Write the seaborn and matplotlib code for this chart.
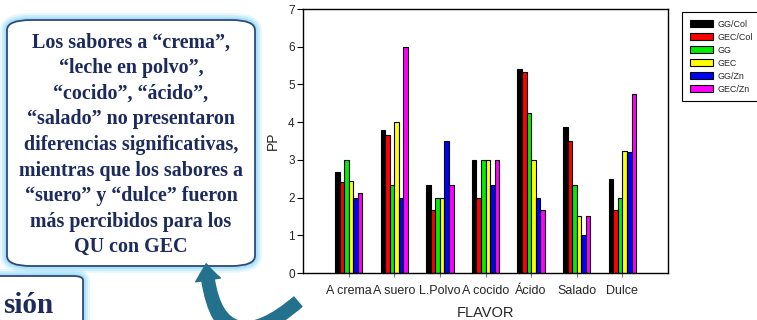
"""Sabores de QU — barras agrupadas por FLAVOR con nota explicativa a la izquierda"""

import numpy as np
import pandas as pd
import matplotlib
matplotlib.use('Agg')
import matplotlib.pyplot as plt
import seaborn as sns
from matplotlib.patches import FancyBboxPatch, FancyArrowPatch

# datos
sabores = ['A crema', 'A suero', 'L.Polvo', 'A cocido', 'Ácido', 'Salado', 'Dulce']
tratamientos = ['GG/Col', 'GEC/Col', 'GG', 'GEC', 'GG/Zn', 'GEC/Zn']
gg_col = [2.67, 3.80, 2.33, 3.00, 5.40, 3.87, 2.50]
gec_col = [2.40, 3.67, 1.67, 2.00, 5.33, 3.50, 1.67]
gg = [3.00, 2.33, 2.00, 3.00, 4.23, 2.33, 2.00]
gec = [2.43, 4.00, 2.00, 3.00, 3.00, 1.50, 3.23]
gg_zn = [2.00, 2.00, 3.50, 2.33, 2.00, 1.00, 3.20]
gec_zn = [2.13, 6.00, 2.33, 3.00, 1.67, 1.50, 4.75]
colores = ['#000000', '#ff0000', '#00ee00', '#ffff00', '#0000ff', '#ff00ff']

nota = ('Los sabores a “crema”,\n“leche en polvo”,\n“cocido”, “ácido”,\n'
        '“salado” no presentaron\ndiferencias significativas,\n'
        'mientras que los sabores a\n“suero” y “dulce” fueron\n'
        'más percibidos para los\nQU con GEC')

W, H = 757, 320

series = [gg_col, gec_col, gg, gec, gg_zn, gec_zn]
df = pd.DataFrame({
    'FLAVOR': sabores * len(tratamientos),
    'grupo': np.repeat(tratamientos, len(sabores)),
    'PP': np.concatenate(series),
})

sns.set_style('ticks')
plt.rcParams['font.family'] = ['Liberation Sans', 'DejaVu Sans']

fig = plt.figure(figsize=(W / 100, H / 100), dpi=100)
ax = fig.add_axes([303 / W, 1 - 273 / H, (668 - 303) / W, (273 - 9) / H])

sns.barplot(data=df, x='FLAVOR', y='PP', hue='grupo', hue_order=tratamientos,
            order=sabores, palette=dict(zip(tratamientos, colores)),
            saturation=1, width=0.6, gap=0, errorbar=None,
            edgecolor='black', linewidth=0.8, ax=ax)

ax.set_xlim(-1, 7)
ax.set_ylim(0, 7)
ax.set_yticks(range(8))
for s in ax.spines.values():
    s.set_visible(True)
    s.set_color('black')
    s.set_linewidth(1.0)
ax.tick_params(axis='y', labelsize=8.5, length=4, width=0.8, color='black', pad=2)
ax.tick_params(axis='x', labelsize=9, length=3, width=0.8, color='#777777', pad=6)
ax.set_xlabel('FLAVOR', fontsize=10.5, labelpad=6)
ax.set_ylabel('PP', fontsize=10, labelpad=6)

sns.move_legend(ax, loc='upper left', bbox_to_anchor=(682 / W, 1 - 12 / H),
                bbox_transform=fig.transFigure, title=None, fontsize=6.4,
                frameon=True, fancybox=False, edgecolor='black', framealpha=1,
                handlelength=2.6, handleheight=0.75, handletextpad=0.5,
                labelspacing=0.45, borderpad=0.85, borderaxespad=0)
ax.get_legend().get_frame().set_linewidth(0.8)


# cuadros redondeados con halo azul claro (coordenadas en píxeles)
def caja(x0, y0, x1, y1, r):
    bx, by = x0 / W, 1 - y1 / H
    bw, bh = (x1 - x0) / W, (y1 - y0) / H
    for lw, a in [(10, 0.2), (7, 0.35), (4, 0.55)]:
        fig.patches.append(FancyBboxPatch(
            (bx, by), bw, bh, boxstyle=f'round,pad=0,rounding_size={r / W}',
            transform=fig.transFigure, facecolor='none', edgecolor='#8fd8f5',
            linewidth=lw, alpha=a, zorder=1))
    fig.patches.append(FancyBboxPatch(
        (bx, by), bw, bh, boxstyle=f'round,pad=0,rounding_size={r / W}',
        transform=fig.transFigure, facecolor='white', edgecolor='#2e4a7a',
        linewidth=1.3, zorder=2))


caja(7, 20, 255, 266, 24)
caja(-30, 276, 83, 340, 10)

fig.text(131 / W, 1 - 145 / H, nota, ha='center', va='center', fontsize=14.4,
         fontweight='bold', color='#1c2a5c', linespacing=1.37,
         family=['Liberation Serif', 'DejaVu Serif'], zorder=3)
fig.text(3 / W, 1 - 313 / H, 'sión', ha='left', va='baseline', fontsize=21,
         fontweight='bold', color='#1c2a5c',
         family=['Liberation Serif', 'DejaVu Serif'], zorder=3)

flecha = FancyArrowPatch((300 / W, 1 - 300 / H), (206 / W, 1 - 261 / H),
                         transform=fig.transFigure,
                         connectionstyle='arc3,rad=-1.0',
                         arrowstyle='simple,head_length=1.3,head_width=2.0,tail_width=1.0',
                         mutation_scale=9, color='#23718c', zorder=4)
fig.patches.append(flecha)

fig.savefig('out.png', dpi=100)
